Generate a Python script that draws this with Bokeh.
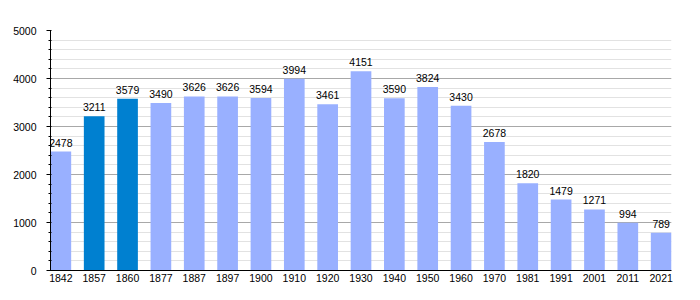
from bokeh.plotting import figure
from bokeh.models import Range1d, FixedTicker, SingleIntervalTicker, ColumnDataSource
from bokeh.core.properties import value
from bokeh.embed import file_html
from bokeh.resources import INLINE

years = ["1842", "1857", "1860", "1877", "1887", "1897", "1900", "1910", "1920", "1930",
         "1940", "1950", "1960", "1970", "1981", "1991", "2001", "2011", "2021"]
population = [2478, 3211, 3579, 3490, 3626, 3626, 3594, 3994, 3461, 4151,
              3590, 3824, 3430, 2678, 1820, 1479, 1271, 994, 789]
highlighted = ["1857", "1860"]

LIGHT = "#99b0ff"
DARK = "#0080d0"
FONT = "Liberation Sans"

xs = list(range(len(years)))
colors = [DARK if y in highlighted else LIGHT for y in years]
src = ColumnDataSource(dict(x=xs, top=population, color=colors,
                            label=[str(v) for v in population]))

p = figure(width=700, height=300, output_backend="svg", toolbar_location=None,
           x_range=Range1d(-0.31, len(years) - 1 + 0.31), y_range=Range1d(0, 5000),
           min_border_left=50, min_border_right=29, min_border_top=30, min_border_bottom=30)
p.outline_line_color = None
p.background_fill_color = "white"

p.vbar(x="x", top="top", width=0.62, bottom=0, color="color", line_color=None, source=src)
p.text(x="x", y="top", text="label", source=src, text_align="center", text_baseline="alphabetic",
       y_offset=-9, text_font=value(FONT), text_font_size="10.5px", text_color="#000000")

p.xaxis.ticker = FixedTicker(ticks=xs)
p.xaxis.major_label_overrides = {i: y for i, y in enumerate(years)}
p.xaxis.major_tick_out = 0
p.xaxis.major_tick_in = 0
p.xaxis.minor_tick_out = 0
p.xaxis.minor_tick_in = 0
p.xaxis.major_label_standoff = 3
p.xgrid.grid_line_color = None

p.yaxis.ticker = SingleIntervalTicker(interval=1000, num_minor_ticks=5)
p.yaxis.major_tick_out = 4
p.yaxis.major_tick_in = 0
p.yaxis.minor_tick_out = 2
p.yaxis.minor_tick_in = 1
p.yaxis.major_label_standoff = 10

for ax in (p.xaxis, p.yaxis):
    ax.axis_line_color = "black"
    ax.major_tick_line_color = "black"
    ax.minor_tick_line_color = "black"
    ax.major_label_text_font = FONT
    ax.major_label_text_font_size = "10.5px"
    ax.major_label_text_color = "#000000"

p.ygrid.grid_line_color = "#a8a8a8"
p.ygrid.minor_grid_line_color = "#e2e2e2"

open("out.html", "w").write(file_html(p, INLINE))
